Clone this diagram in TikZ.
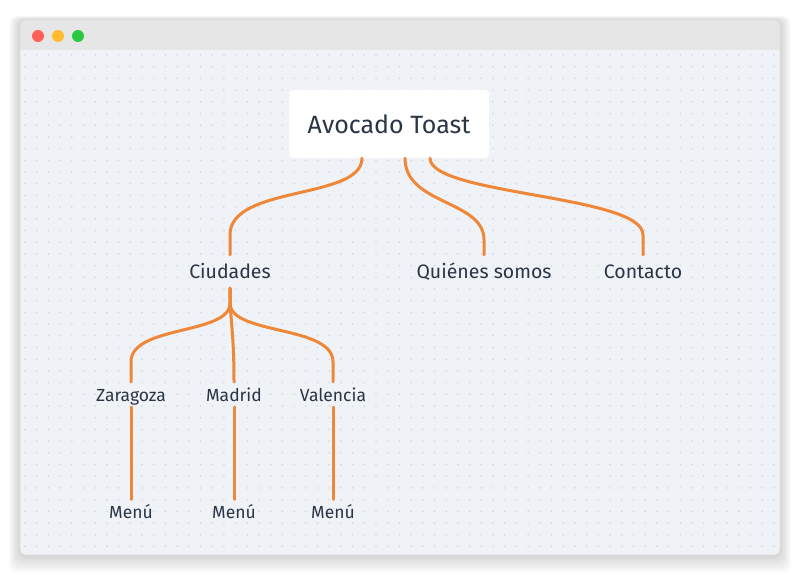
\documentclass[tikz,border=0pt]{standalone}
\usepackage{fontspec}
\setmainfont{Fira Sans}
\usepackage{xcolor}
\definecolor{ATOrange}{HTML}{EE8738}
\definecolor{ATInk}{HTML}{2A3545}
\definecolor{ATCanvas}{HTML}{EFF2F6}
\definecolor{ATBar}{HTML}{E6E6E6}
\definecolor{ATDot}{HTML}{D0D6E0}
\definecolor{ATRed}{HTML}{FF5F57}
\definecolor{ATYellow}{HTML}{FEBC2E}
\definecolor{ATGreen}{HTML}{28C840}
\usetikzlibrary{positioning,calc}

\begin{document}
\begin{tikzpicture}[
  x=1pt,y=-1pt,
  rootbox/.style={fill=white,rounded corners=4pt,minimum width=200pt,minimum height=68pt,font=\fontsize{25}{29}\selectfont,text=ATInk},
  topic/.style={inner sep=0pt,text height=17pt,text depth=3pt,inner ysep=6.5pt,font=\fontsize{19.5}{23}\selectfont,text=ATInk},
  leaf/.style={inner sep=0pt,text height=15.5pt,text depth=2.5pt,inner ysep=3.5pt,font=\fontsize{17.5}{21}\selectfont,text=ATInk},
  branch/.style={draw=ATOrange,line width=3pt,line cap=round}
]
  \useasboundingbox (0,0) rectangle (800,575);
  \fill[white] (0,0) rectangle (800,575);
  % soft shadow round the window
  \foreach \s in {1,...,14}{\fill[black,opacity=0.011,rounded corners=8pt] (20-0.8*\s,20-0.3*\s) rectangle (780+0.8*\s,555+1.3*\s);}
  \fill[ATCanvas,rounded corners=6pt] (20,20) rectangle (780,555);
  \begin{scope}
    \clip[rounded corners=6pt] (20,20) rectangle (780,555);
    \fill[ATBar] (20,20) rectangle (780,50);
    \foreach \i in {0,...,65}{\foreach \j in {0,...,42}{\fill[ATDot] (25+11.7*\i,55+11.7*\j) circle (0.85pt);}}
  \end{scope}
  \draw[white!87!black,line width=0.8pt,rounded corners=6pt] (20,20) rectangle (780,555);
  \fill[ATRed] (38,36) circle (6pt);
  \fill[ATYellow] (58,36) circle (6pt);
  \fill[ATGreen] (78,36) circle (6pt);

  \node[rootbox] (root) at (389,124) {Avocado Toast};
  \node[topic] (ciudades) at (230,271.5) {Ciudades};
  \node[topic] (quienes) at (484,271.5) {Quiénes somos};
  \node[topic] (contacto) at (643,271.5) {Contacto};
  \node[leaf] (zaragoza) at (131,394.5) {Zaragoza};
  \node[leaf] (madrid) at (234,394.5) {Madrid};
  \node[leaf] (valencia) at (333,394.5) {Valencia};
  \node[leaf] (menuz) at (131,512) {Menú};
  \node[leaf] (menum) at (234,512) {Menú};
  \node[leaf] (menuv) at (333,512) {Menú};

  \draw[branch] ([xshift=-27pt]root.south) .. controls (362,200) and (230,185) .. ($(ciudades.north)+(0,-20)$) -- (ciudades.north);
  \draw[branch] ([xshift=16pt]root.south) .. controls (405,205) and (484,200) .. ($(quienes.north)+(0,-15)$) -- (quienes.north);
  \draw[branch] ([xshift=41pt]root.south) .. controls (430,195) and (643,195) .. ($(contacto.north)+(0,-20)$) -- (contacto.north);
  \draw[branch] (ciudades.south) -- ++(0,15) .. controls (230,335) and (131,325) .. ($(zaragoza.north)+(0,-20)$) -- (zaragoza.north);
  \draw[branch] (ciudades.south) -- ++(0,15) .. controls (232,330) and (234,345) .. (madrid.north);
  \draw[branch] (ciudades.south) -- ++(0,15) .. controls (230,335) and (333,325) .. ($(valencia.north)+(0,-20)$) -- (valencia.north);
  \foreach \a/\b in {zaragoza/menuz,madrid/menum,valencia/menuv}{\draw[branch] (\a.south) -- (\b.north);}
\end{tikzpicture}
\end{document}
